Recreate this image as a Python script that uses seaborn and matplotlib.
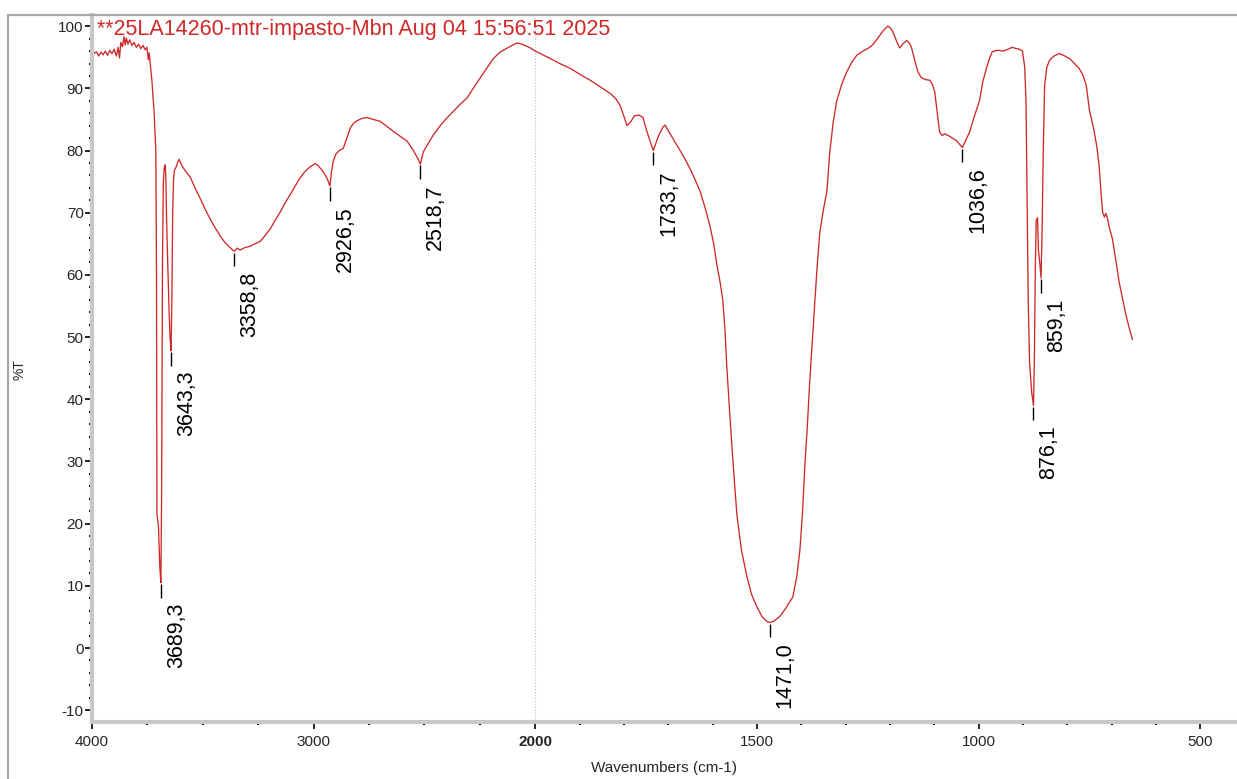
import numpy as np
import pandas as pd
import matplotlib
matplotlib.use("Agg")
import matplotlib.pyplot as plt
import seaborn as sns
from matplotlib.ticker import FixedLocator, MultipleLocator
from matplotlib.lines import Line2D

# spectrum (wavenumber in cm-1, %T)
wavenumber = [
    4000, 3990, 3980, 3970, 3960, 3950, 3940, 3930, 3920, 3910, 3900, 3890, 3882, 3876,
    3870, 3862, 3856, 3850, 3845, 3838, 3830, 3820, 3810, 3800, 3790, 3780, 3770, 3760,
    3752, 3746, 3742, 3736, 3730, 3725, 3720, 3716, 3712, 3709, 3707, 3700, 3694, 3689.3,
    3686, 3682, 3678, 3674, 3670, 3667, 3664, 3660, 3656, 3652, 3648, 3643.3, 3640, 3636,
    3632, 3628, 3620, 3612, 3607, 3600, 3590, 3580, 3570, 3558, 3545, 3530, 3512, 3490,
    3467, 3445, 3422, 3400, 3377, 3358.8, 3345, 3332, 3310, 3287, 3265, 3241, 3220, 3196,
    3175, 3151, 3130, 3106, 3085, 3061, 3040, 3016, 2993, 2980, 2971, 2955, 2939, 2926.5,
    2920, 2912, 2900, 2885, 2867, 2850, 2835, 2820, 2804, 2780, 2758, 2730, 2700, 2670,
    2641, 2610, 2578, 2550, 2528, 2518.7, 2505, 2487, 2460, 2429, 2400, 2370, 2340, 2307,
    2280, 2248, 2220, 2189, 2160, 2126, 2100, 2081, 2060, 2040, 2022, 2000, 1989, 1966,
    1945, 1921, 1900, 1876, 1855, 1831, 1818, 1809, 1800, 1793, 1785, 1776, 1766, 1757,
    1750, 1741, 1733.7, 1728, 1723, 1712, 1707, 1700, 1690, 1680, 1665, 1651, 1640, 1628,
    1617, 1606, 1597, 1590, 1583, 1577, 1572, 1568, 1562, 1556, 1550, 1545, 1535, 1523,
    1512, 1500, 1488, 1478, 1471.0, 1462, 1455, 1448, 1435, 1419, 1410, 1403, 1397, 1392,
    1386, 1381, 1375, 1369, 1364, 1358, 1350, 1342, 1336, 1328, 1320, 1308, 1297, 1286,
    1275, 1261, 1250, 1239, 1228, 1216, 1205, 1200, 1194, 1185, 1178, 1170, 1162, 1156,
    1151, 1144, 1137, 1130, 1126, 1118, 1110, 1104, 1099, 1094, 1088, 1082, 1077, 1068,
    1059, 1050, 1044, 1036.6, 1030, 1020, 1010, 998, 990, 982, 975, 969, 960, 953,
    945, 937, 924, 915, 908, 901, 896, 893, 891, 888, 885, 880, 876.1, 874,
    872, 870, 867, 865, 862, 859.1, 857, 854, 851, 846, 840, 830, 818, 808,
    795, 785, 773, 765, 757, 750, 745, 739, 733, 728, 723, 720, 716, 713,
    710, 705, 698, 690, 683, 675, 667, 660, 653,
]
transmittance = [
    96.0, 95.6, 95.9, 95.2, 95.8, 95.4, 96.0, 95.3, 96.1, 95.6, 96.3, 95.2, 96.6, 94.9,
    97.4, 96.7, 98.3, 97.0, 98.1, 97.1, 97.8, 96.9, 97.4, 96.6, 97.1, 96.4, 96.9, 96.2,
    96.6, 94.6, 95.7, 93.6, 91.4, 88.9, 86.3, 83.2, 80.0, 60.0, 21.5, 19.5, 13.0, 10.5,
    24.0, 62.0, 75.0, 77.2, 77.7, 76.0, 70.0, 64.0, 59.0, 54.0, 50.0, 47.8, 55.0, 70.0,
    75.5, 76.8, 77.4, 78.2, 78.6, 78.0, 77.3, 76.8, 76.3, 75.8, 74.8, 73.6, 72.3, 70.6,
    69.0, 67.6, 66.3, 65.2, 64.4, 63.8, 64.3, 64.0, 64.4, 64.6, 65.0, 65.4, 66.3, 67.4,
    68.7, 70.1, 71.5, 72.9, 74.2, 75.6, 76.6, 77.4, 77.9, 77.6, 77.2, 76.5, 75.5, 74.3,
    76.5, 78.2, 79.4, 80.0, 80.3, 82.0, 83.6, 84.4, 84.8, 85.2, 85.3, 85.0, 84.7, 83.9,
    83.1, 82.3, 81.5, 80.0, 78.6, 77.8, 79.8, 80.9, 82.5, 84.0, 85.2, 86.3, 87.4, 88.5,
    90.0, 91.7, 93.2, 94.8, 95.8, 96.5, 97.0, 97.3, 97.1, 96.8, 96.5, 96.0, 95.6, 94.8,
    94.0, 93.2, 92.3, 91.3, 90.3, 89.2, 88.3, 87.3, 85.5, 84.0, 84.6, 85.6, 85.7, 85.3,
    83.5, 81.5, 80.0, 81.2, 82.2, 83.8, 84.1, 83.2, 82.0, 80.8, 79.0, 77.1, 75.4, 73.4,
    70.8, 67.9, 64.8, 61.5, 58.8, 56.0, 51.0, 45.3, 38.5, 32.0, 26.0, 21.3, 15.8, 11.6,
    8.6, 6.6, 5.0, 4.3, 4.1, 4.3, 4.7, 5.1, 6.4, 8.2, 11.5, 15.8, 22.0, 29.2,
    36.0, 42.7, 49.5, 56.1, 61.5, 66.9, 70.5, 73.5, 79.5, 84.5, 88.0, 90.8, 92.7, 94.2,
    95.3, 96.0, 96.4, 97.0, 98.0, 99.2, 100.0, 99.8, 99.2, 97.6, 96.5, 97.2, 97.7, 97.3,
    96.5, 94.5, 92.7, 91.8, 91.6, 91.4, 91.3, 90.6, 89.5, 86.5, 83.0, 82.4, 82.7, 82.4,
    82.0, 81.6, 81.1, 80.5, 81.5, 83.0, 85.4, 88.0, 91.2, 93.3, 94.9, 95.9, 96.1, 96.1,
    96.0, 96.2, 96.6, 96.4, 96.3, 96.0, 93.5, 88.0, 75.0, 56.0, 46.0, 41.0, 39.0, 47.0,
    61.0, 68.8, 69.2, 64.0, 62.0, 59.5, 66.0, 80.0, 90.5, 93.4, 94.5, 95.2, 95.6, 95.3,
    94.8, 94.1, 93.2, 92.2, 90.5, 86.5, 85.0, 83.0, 80.5, 77.6, 72.5, 70.0, 69.3, 69.9,
    69.3, 67.6, 65.8, 62.2, 58.9, 56.1, 53.4, 51.4, 49.6,
]

peaks = [3689.3, 3643.3, 3358.8, 2926.5, 2518.7, 1733.7, 1471.0, 1036.6, 876.1, 859.1]

x_major = [4000, 3000, 2000, 1500, 1000, 500]
x_minor = [3750, 3500, 3250, 2750, 2500, 2250, 1900, 1800, 1700, 1600,
           1400, 1300, 1200, 1100, 900, 800, 700, 600]
y_major = list(range(-10, 101, 10))

title = "**25LA14260-mtr-impasto-Mbn Aug 04 15:56:51 2025"
RED = "#d02828"

df = pd.DataFrame({"wavenumber": wavenumber, "T": transmittance})

sns.set_style("white")
plt.rcParams["font.family"] = ["Liberation Sans", "DejaVu Sans"]
NARROW = ["Liberation Sans Narrow", "Liberation Sans", "DejaVu Sans"]

W, H = 1237, 779
fig = plt.figure(figsize=(W / 100, H / 100), dpi=100)
ax = fig.add_axes([92 / W, 1 - 722 / H, 1 - 92 / W, (722 - 15) / H])


# spectrometer axis: scale doubles below 2000 cm-1
def fwd(x):
    x = np.asarray(x, dtype=float)
    return np.where(x >= 2000, x, 2 * x - 2000)


def inv(v):
    v = np.asarray(v, dtype=float)
    return np.where(v >= 2000, v, (v + 2000) / 2)


ax.set_xscale("function", functions=(fwd, inv))

ax.axvline(2000, color="#bdbdbd", lw=0.8, ls=":", zorder=0)
sns.lineplot(data=df, x="wavenumber", y="T", ax=ax, color=RED, lw=0.95,
             estimator=None, sort=False)

ax.set_xlim(4000, 417)
ax.set_ylim(-11.9, 101.8)

# peak markers
wn_sorted = np.array(wavenumber)[::-1]
t_sorted = np.array(transmittance)[::-1]
for p in peaks:
    t = np.interp(p, wn_sorted, t_sorted)
    ax.vlines(p, t - 2.4, t - 0.2, color="black", lw=1)
    ax.annotate(f"{p:.1f}".replace(".", ","), xy=(p, t), xytext=(3.6, -14.5),
                textcoords="offset points", rotation=90, ha="left", va="top",
                fontsize=15.5, color="black")

ax.set_xticks(x_major, labels=[str(v) for v in x_major])
ax.xaxis.set_minor_locator(FixedLocator(x_minor))
ax.set_yticks(y_major, labels=[str(v) for v in y_major])
ax.yaxis.set_minor_locator(MultipleLocator(2))

ax.tick_params(which="both", bottom=True, left=True, top=False, right=False)
ax.tick_params(which="major", direction="out", length=5, width=1.2, color="black",
               labelsize=11, pad=1)
ax.tick_params(which="minor", direction="out", length=2, width=1.5, color="black")
ax.tick_params(axis="x", which="major", pad=4)
for lbl in ax.get_xticklabels() + ax.get_yticklabels():
    lbl.set_fontfamily(NARROW)
    if lbl.get_text() == "2000":
        lbl.set_fontweight("bold")

for s in ["top", "right"]:
    ax.spines[s].set_visible(False)
for s in ["left", "bottom"]:
    ax.spines[s].set_color("#c8c8c8")
    ax.spines[s].set_linewidth(3)
ax.set_xlabel("")
ax.set_ylabel("")

fig.text(97 / W, 1 - 19 / H, title, color=RED, fontsize=15.5, ha="left", va="top")
fig.text(664 / W, 1 - 768 / H, "Wavenumbers (cm-1)", fontsize=11, ha="center",
         va="center", family=NARROW)
fig.text(20 / W, 1 - 370 / H, "%T", fontsize=10, rotation=90, ha="center", va="center")

# outer frame
fig.add_artist(Line2D([8 / W, 1], [1 - 15 / H] * 2, transform=fig.transFigure,
                      color="#a8a8a8", lw=1.6))
fig.add_artist(Line2D([8 / W] * 2, [0, 1 - 15 / H], transform=fig.transFigure,
                      color="#a8a8a8", lw=1.6))

fig.savefig("out.png", dpi=100)
